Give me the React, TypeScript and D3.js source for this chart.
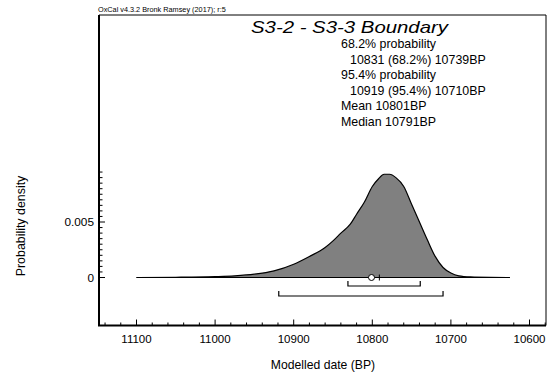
import React from "react";
import * as d3 from "d3";

const years = [11100, 11050, 11000, 10975, 10950, 10925, 10900, 10880, 10860, 10850, 10840, 10828, 10820, 10810, 10800, 10792, 10785, 10778, 10770, 10760, 10750, 10740, 10730, 10720, 10710, 10700, 10690, 10675, 10650, 10625];
const density = [0, 0.00002, 0.00008, 0.00015, 0.0003, 0.0006, 0.0012, 0.0019, 0.0027, 0.0033, 0.0040, 0.0048, 0.0057, 0.0068, 0.0082, 0.0089, 0.0093, 0.0093, 0.0090, 0.0082, 0.0066, 0.0050, 0.0034, 0.0019, 0.0009, 0.0004, 0.00015, 0.00005, 0.00001, 0];
const xTickLabels = [11100, 11000, 10900, 10800, 10700, 10600];
const yTickLabels = [0, 0.005];
const range68 = [10831, 10739];
const range95 = [10919, 10710];
const meanBP = 10801;
const medianBP = 10791;
const title = "S3-2 - S3-3 Boundary";
const infoLines = [
  { text: "68.2% probability", indent: 0 },
  { text: "10831 (68.2%) 10739BP", indent: 1 },
  { text: "95.4% probability", indent: 0 },
  { text: "10919 (95.4%) 10710BP", indent: 1 },
  { text: "Mean 10801BP", indent: 0 },
  { text: "Median 10791BP", indent: 0 },
];

export default function App() {
  const W = 547, H = 379;
  const left = 99, right = 546, top = 15, bottom = 325.5;
  const x = d3.scaleLinear().domain([11100, 10600]).range([136.5, 529.5]);
  const y = d3.scaleLinear().domain([0, 0.005]).range([277.5, 222]);
  const data = years.map((yr, i) => ({ yr, d: density[i] }));
  const area = d3.area<{ yr: number; d: number }>()
    .x((p) => x(p.yr)).y0(y(0)).y1((p) => y(p.d)).curve(d3.curveMonotoneX);
  const line = d3.line<{ yr: number; d: number }>()
    .x((p) => x(p.yr)).y((p) => y(p.d)).curve(d3.curveMonotoneX);
  const font = "Liberation Sans, Arial, sans-serif";

  const xMinor = d3.range(11140, 10579, -20);
  const yMinor = d3.range(0, 0.00951, 0.0005);

  const bracket = (r: number[], yy: number) => {
    const x1 = x(r[0]), x2 = x(r[1]);
    return `M${x1},${yy - 5}V${yy}H${x2}V${yy - 5}`;
  };

  return (
    <svg width={W} height={H} style={{ position: "absolute", left: 0, top: 0, background: "#fff" }} fontFamily={font}>
      <rect x={0} y={0} width={W} height={H} fill="#fff" />
      <text x={98} y={12} fontSize={7.3} fill="#000">OxCal v4.3.2 Bronk Ramsey (2017); r:5</text>
      {/* frame */}
      <path d={`M${left},${top}H${right}V${bottom}`} fill="none" stroke="#000" strokeWidth={1} />
      <path d={`M${left},${top}V${bottom}H${right}`} fill="none" stroke="#000" strokeWidth={2} />
      {/* x ticks */}
      {xMinor.map((v) => {
        const major = v % 100 === 0;
        return <line key={"xm" + v} x1={x(v)} x2={x(v)} y1={bottom} y2={bottom - (major ? 6 : 3)} stroke="#000" strokeWidth={1} />;
      })}
      {xTickLabels.map((v) => (
        <text key={"xl" + v} x={x(v)} y={343} fontSize={11.5} textAnchor="middle">{v}</text>
      ))}
      {/* y ticks */}
      {yMinor.map((v, i) => {
        const major = i % 10 === 0;
        return <line key={"ym" + i} x1={left} x2={left + (major ? 6 : 3.5)} y1={y(v)} y2={y(v)} stroke="#000" strokeWidth={1} />;
      })}
      {yTickLabels.map((v) => (
        <text key={"yl" + v} x={94} y={y(v) + 4} fontSize={11.8} textAnchor="end">{v === 0 ? "0" : "0.005"}</text>
      ))}
      <text transform={`translate(25,226) rotate(-90)`} fontSize={12.4} textAnchor="middle">Probability density</text>
      <text x={323} y={369} fontSize={12.2} textAnchor="middle">Modelled date (BP)</text>
      {/* distribution */}
      <path d={area(data) || ""} fill="#808080" stroke="none" />
      <path d={line(data) || ""} fill="none" stroke="#000" strokeWidth={1.2} />
      <line x1={x(11100)} x2={x(10625)} y1={y(0)} y2={y(0)} stroke="#000" strokeWidth={1.2} />
      {/* mean and median */}
      <line x1={x(medianBP) - 3} x2={x(medianBP) + 3} y1={y(0)} y2={y(0)} stroke="#000" strokeWidth={1} />
      <line x1={x(medianBP)} x2={x(medianBP)} y1={y(0) - 3} y2={y(0) + 3} stroke="#000" strokeWidth={1} />
      <circle cx={x(meanBP)} cy={y(0)} r={3} fill="#fff" stroke="#000" strokeWidth={1} />
      {/* ranges */}
      <path d={bracket(range68, 286)} fill="none" stroke="#000" strokeWidth={1.2} />
      <path d={bracket(range95, 296)} fill="none" stroke="#000" strokeWidth={1.2} />
      {/* title and info */}
      <text x={251} y={33} fontSize={16.5} fontStyle="italic" textLength={197} lengthAdjust="spacingAndGlyphs">{title}</text>
      {infoLines.map((l, i) => (
        <text key={"il" + i} x={341 + l.indent * 9} y={48 + i * 15.6} fontSize={12.4}>{l.text}</text>
      ))}
    </svg>
  );
}
